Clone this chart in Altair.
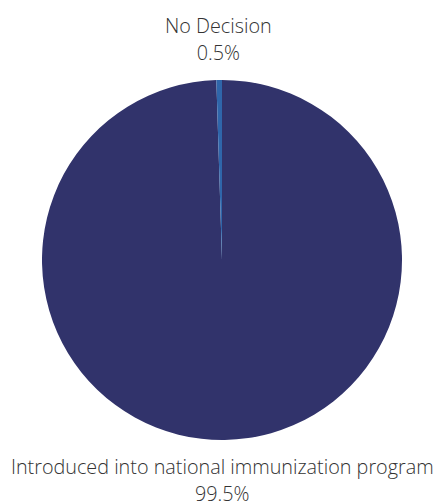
import altair as alt
import pandas as pd

categories = ["Introduced into national immunization program", "No Decision"]
values = [99.5, 0.5]
pct_labels = ["99.5%", "0.5%"]
order = [0, 1]
colors = ["#31336B", "#2F66AA"]

df = pd.DataFrame({
    "category": categories,
    "value": values,
    "pct": pct_labels,
    "ord": order,
})
df["label"] = [[c, p] for c, p in zip(df["category"], df["pct"])]

base = alt.Chart(df).encode(
    theta=alt.Theta("value:Q", stack=True),
    order=alt.Order("ord:Q"),
)

pie = base.mark_arc(outerRadius=180).encode(
    color=alt.Color("category:N", scale=alt.Scale(domain=categories, range=colors), legend=None)
)

text_style = dict(
    font="Open Sans",
    fontWeight=300,
    fontSize=19.8,
    color="#333333",
    align="center",
    baseline="middle",
)

text_top = base.mark_text(radius=233, lineHeight=27, **text_style).encode(
    text="label",
    opacity=alt.condition(alt.datum.ord == 1, alt.value(1), alt.value(0)),
)
text_bottom = base.mark_text(radius=208, dx=-3, lineHeight=27.5, **text_style).encode(
    text="label",
    opacity=alt.condition(alt.datum.ord == 0, alt.value(1), alt.value(0)),
)

chart = (pie + text_top + text_bottom).properties(
    width=424,
    height=472,
    padding={"left": 2, "top": 16, "right": 0, "bottom": 12},
    autosize="none",
).configure_view(stroke=None)

chart.save("out.html", embed_options={"renderer": "svg", "actions": False})
